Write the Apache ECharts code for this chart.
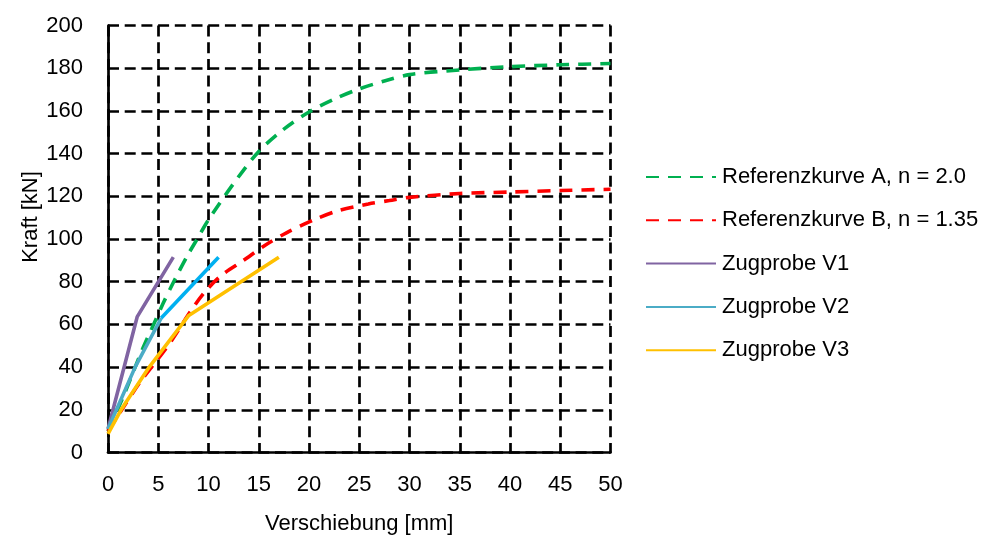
<!DOCTYPE html>
<html>
<head>
<meta charset="utf-8">
<script src="https://cdn.jsdelivr.net/npm/echarts@6/dist/echarts.min.js"></script>
<style>
  html, body { margin: 0; padding: 0; background: #fff; }
  #chart { width: 986px; height: 536px; }
</style>
</head>
<body>
<div id="chart"></div>
<script>
// Displacement [mm] / force [kN] pairs for each curve
const refA_x = [0, 1.5, 3.4, 4.35, 5.5, 6.7, 8, 9, 10, 12.5, 15, 17.5, 20, 22.5, 25, 27.5, 30, 35, 40, 45, 50];
const refA_y = [10, 26, 48, 58, 70, 81.5, 93, 101, 109, 126, 141, 151.5, 159.5, 165.5, 170.3, 174, 177, 179.2, 180.7, 181.6, 182.2];

const refB_x = [0, 1.5, 3.2, 5, 6.2, 8.2, 9.6, 11.3, 13.5, 15.6, 17.8, 20.5, 22.9, 25.9, 28, 30, 35, 40, 45, 50];
const refB_y = [10, 21, 33, 44, 51.5, 66, 75, 83, 90, 97, 103, 109, 113.3, 116.4, 118, 119.5, 121.3, 122, 122.7, 123.3];

const v1_x = [0, 2.9, 6.5];
const v1_y = [11, 63.5, 91.5];

const v2_x = [0, 2.7, 5.3];
const v2_y = [11, 40, 63];
const v2b_x = [5.3, 11];
const v2b_y = [63, 91.5];

const v3_x = [0, 1.3, 4.1, 8, 17];
const v3_y = [8.7, 20, 40, 64, 91.5];

const seriesNames = [
  'Referenzkurve A, n = 2.0',
  'Referenzkurve B, n = 1.35',
  'Zugprobe V1',
  'Zugprobe V2',
  'Zugprobe V3'
];

const xTicks = { min: 0, max: 50, step: 5 };
const yTicks = { min: 0, max: 200, step: 20 };

function pairs(xs, ys) { return xs.map((x, i) => [x, ys[i]]); }

const FONT = 'Liberation Sans';
const FS = 22;
const chart = echarts.init(document.getElementById('chart'));

const gridLine = { show: true, lineStyle: { color: '#000', width: 2.7, type: [11, 5.7] } };

function lineSeries(name, data, color, dashed, smooth) {
  return {
    name: name,
    type: 'line',
    data: data,
    symbol: 'none',
    showSymbol: false,
    smooth: smooth ? 0.3 : false,
    lineStyle: { color: color, width: 3.6, type: dashed ? [13, 9] : 'solid', cap: 'butt' },
    itemStyle: { color: color },
    emphasis: { disabled: true },
    z: 3
  };
}

chart.setOption({
  animation: false,
  backgroundColor: '#fff',
  textStyle: { fontFamily: FONT, color: '#000' },
  grid: { left: 108, right: 375.5, top: 25.5, bottom: 83.5, containLabel: false, outerBoundsMode: 'none' },
  xAxis: {
    type: 'value',
    min: xTicks.min, max: xTicks.max, interval: xTicks.step,
    name: 'Verschiebung [mm]',
    nameLocation: 'middle',
    nameGap: 60,
    nameMoveOverlap: false,
    nameTextStyle: { fontFamily: FONT, fontSize: FS, color: '#000' },
    axisLine: { show: true, onZero: false, lineStyle: { color: '#000', width: 2.7 } },
    axisTick: { show: false },
    axisLabel: { fontFamily: FONT, fontSize: FS, color: '#000', margin: 21 },
    splitLine: gridLine
  },
  yAxis: {
    type: 'value',
    min: yTicks.min, max: yTicks.max, interval: yTicks.step,
    name: 'Kraft [kN]',
    nameLocation: 'middle',
    nameGap: 66,
    nameMoveOverlap: false,
    nameRotate: 90,
    nameTextStyle: { fontFamily: FONT, fontSize: FS, color: '#000', padding: [0, 0, 0, 44] },
    axisLine: { show: true, onZero: false, lineStyle: { color: '#000', width: 2.7 } },
    axisTick: { show: false },
    axisLabel: { fontFamily: FONT, fontSize: FS, color: '#000', margin: 25 },
    splitLine: gridLine
  },
  legend: {
    orient: 'vertical',
    left: 640,
    top: 161,
    itemWidth: 70,
    itemHeight: 14,
    itemGap: 21.3,
    data: seriesNames,
    itemStyle: { opacity: 0 },
    textStyle: { fontFamily: FONT, fontSize: FS, color: '#000', padding: [0, 0, 0, 1] },
    selectedMode: false
  },
  series: [
    lineSeries(seriesNames[0], pairs(refA_x, refA_y), '#00B050', true, true),
    lineSeries(seriesNames[1], pairs(refB_x, refB_y), '#FF0000', true, true),
    lineSeries(seriesNames[2], pairs(v1_x, v1_y), '#8064A2', false, false),
    lineSeries(seriesNames[3], pairs(v2_x, v2_y), '#4BACC6', false, false),
    lineSeries('Zugprobe V2 oberer Abschnitt', pairs(v2b_x, v2b_y), '#00B0F0', false, false),
    lineSeries(seriesNames[4], pairs(v3_x, v3_y), '#FFC000', false, false)
  ]
});
</script>
</body>
</html>
